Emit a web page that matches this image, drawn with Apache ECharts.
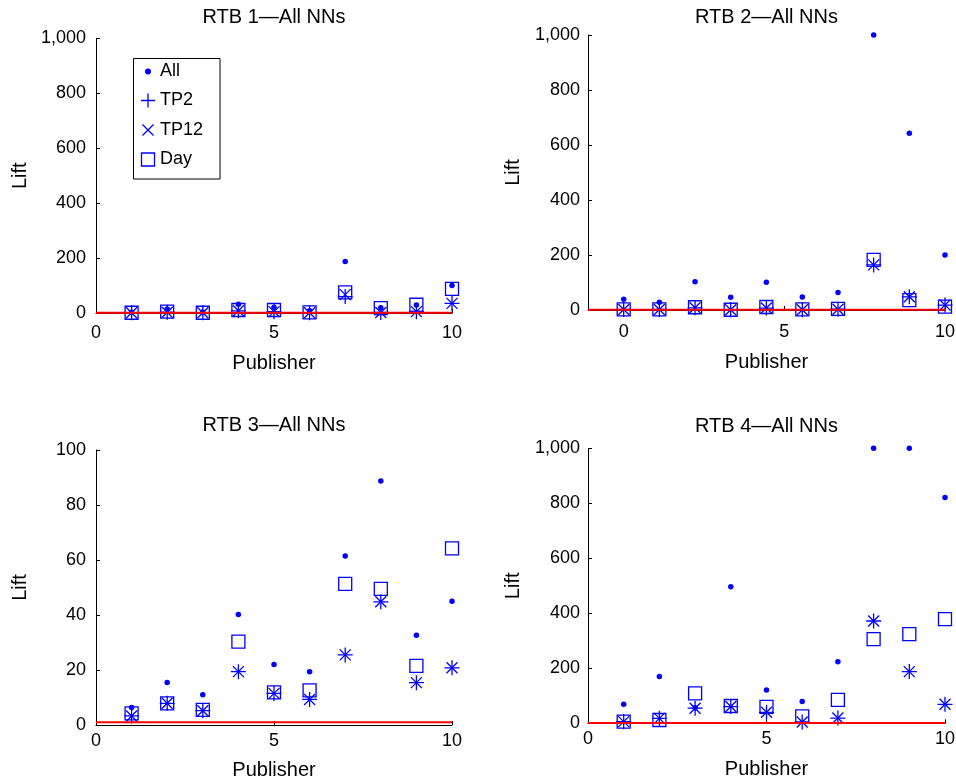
<!DOCTYPE html>
<html><head><meta charset="utf-8">
<script src="https://cdn.jsdelivr.net/npm/echarts@6/dist/echarts.min.js"></script>
<style>html,body{margin:0;padding:0;background:#fff}#c{width:956px;height:784px}</style>
</head><body><div id="c"></div>
<script>
// ---------- data ----------
const publishers = [1, 2, 3, 4, 5, 6, 7, 8, 9, 10];
const rtb2Positions = [0, 1.11, 2.22, 3.33, 4.44, 5.56, 6.67, 7.78, 8.89, 10];
const seriesNames = ['All', 'TP2', 'TP12', 'Day'];
const panelTitles = ['RTB 1—All NNs', 'RTB 2—All NNs', 'RTB 3—All NNs', 'RTB 4—All NNs'];
const xAxisName = 'Publisher';
const yAxisName = 'Lift';
const xTickValues = [0, 5, 10];
const baselineLift = 1;

const rtb1All  = [3, 15, 4, 32, 21, 8, 188, 19, 29, 100];
const rtb1TP2  = [1, 3, 1, 8, 5, 1, 60, 2, 5, 35];
const rtb1TP12 = [1, 3, 1, 8, 5, 1, 67, 2, 5, 35];
const rtb1Day  = [1, 5, 1, 11, 11, 2, 75, 18, 30, 88];

const rtb2All  = [39, 28, 103, 46, 101, 47, 64, 1000, 643, 200];
const rtb2TP2  = [2, 2, 8, 1, 7, 1, 3, 164, 48, 18];
const rtb2TP12 = [2, 2, 8, 1, 7, 1, 3, 164, 48, 18];
const rtb2Day  = [2, 2, 10, 1, 11, 2, 4, 182, 36, 12];

const rtb3All  = [6.4, 15.5, 11, 40.2, 22, 19.4, 61.5, 88.7, 32.6, 45];
const rtb3TP2  = [3.3, 7.9, 5.2, 19.4, 11.5, 9.3, 25.5, 44.8, 15.4, 20.8];
const rtb3TP12 = [3.3, 7.9, 5.2, 19.4, 11.5, 9.3, 25.5, 44.8, 15.4, 20.8];
const rtb3Day  = [4.2, 7.9, 5.5, 30.3, 11.9, 12.6, 51.3, 49.5, 21.5, 64.2];

const rtb4All  = [69, 170, 57, 497, 121, 79, 224, 1000, 1000, 821];
const rtb4TP2  = [6, 18, 55, 61, 40, 5, 19, 372, 188, 69];
const rtb4TP12 = [6, 18, 55, 61, 40, 5, 19, 372, 188, 69];
const rtb4Day  = [6, 12, 109, 63, 60, 25, 85, 306, 324, 379];

const yMaxBig = 1000, yStepBig = 200;
const yMaxSmall = 100, yStepSmall = 20;

// ---------- styles / layout ----------
const FONT = 'Liberation Sans, Arial, sans-serif';
const BLUE = '#0000ff';
const RED = '#ff0000';
const SYM_PLUS = 'path://M0,7L14,7M7,0L7,14';
const SYM_X = 'path://M0,0L10,10M0,10L10,0';
const SYM_SQ = 'path://M0,0L10,0L10,10L0,10Z';

const panels = [
  { x: publishers, all: rtb1All, tp2: rtb1TP2, tp12: rtb1TP12, day: rtb1Day, xMin: 0, yMax: yMaxBig, yStep: yStepBig,
    grid: { left: 96, top: 38.5, width: 356, height: 274.5 }, xMargin: 11, yMargin: 10, xNameGap: 40, yNameGap: 66, titleTop: 7 },
  { x: rtb2Positions, all: rtb2All, tp2: rtb2TP2, tp12: rtb2TP12, day: rtb2Day, xMin: -1.111, yMax: yMaxBig, yStep: yStepBig,
    grid: { left: 588, top: 35, width: 357, height: 275 }, xMargin: 13, yMargin: 8, xNameGap: 42, yNameGap: 65, titleTop: 7 },
  { x: publishers, all: rtb3All, tp2: rtb3TP2, tp12: rtb3TP12, day: rtb3Day, xMin: 0, yMax: yMaxSmall, yStep: yStepSmall,
    grid: { left: 96, top: 450, width: 356, height: 275 }, xMargin: 7, yMargin: 10, xNameGap: 35, yNameGap: 66, titleTop: 415 },
  { x: publishers, all: rtb4All, tp2: rtb4TP2, tp12: rtb4TP12, day: rtb4Day, xMin: 0, yMax: yMaxBig, yStep: yStepBig,
    grid: { left: 588, top: 448.3, width: 357, height: 275 }, xMargin: 7, yMargin: 8, xNameGap: 36, yNameGap: 65, titleTop: 416 }
];

const pair = (xs, ys) => xs.map((v, i) => [v, ys[i]]);
const fmt = v => Number(v).toLocaleString('en-US');

const grids = [], xAxes = [], yAxes = [], titles = [], series = [];
panels.forEach((p, i) => {
  grids.push(Object.assign({ containLabel: false, outerBoundsMode: 'none' }, p.grid));
  titles.push({ text: panelTitles[i], left: p.grid.left + p.grid.width / 2, top: p.titleTop, textAlign: 'center', padding: 0,
    textStyle: { fontFamily: FONT, fontSize: 20, fontWeight: 'normal', color: '#000' } });
  xAxes.push({
    type: 'value', gridIndex: i, min: p.xMin, max: 10,
    name: xAxisName, nameLocation: 'middle', nameGap: p.xNameGap,
    nameTextStyle: { fontFamily: FONT, fontSize: 20, color: '#000' },
    axisLine: { show: true, onZero: false, lineStyle: { color: '#000', width: 1 } },
    axisTick: { show: true, inside: true, length: 4, lineStyle: { color: '#000' }, customValues: xTickValues },
    axisLabel: { fontFamily: FONT, fontSize: 18, color: '#000', margin: p.xMargin, customValues: xTickValues, formatter: fmt },
    splitLine: { show: false }
  });
  yAxes.push({
    type: 'value', gridIndex: i, min: 0, max: p.yMax, interval: p.yStep,
    name: yAxisName, nameLocation: 'middle', nameGap: p.yNameGap,
    nameTextStyle: { fontFamily: FONT, fontSize: 20, color: '#000' },
    axisLine: { show: true, onZero: false, lineStyle: { color: '#000', width: 1 } },
    axisTick: { show: true, inside: true, length: 4, lineStyle: { color: '#000' } },
    axisLabel: { fontFamily: FONT, fontSize: 18, color: '#000', margin: p.yMargin, formatter: fmt },
    splitLine: { show: false }
  });
  const common = { type: 'scatter', xAxisIndex: i, yAxisIndex: i, silent: true };
  series.push(Object.assign({}, common, { name: seriesNames[3], data: pair(p.x, p.day), symbol: SYM_SQ, symbolSize: 13,
    itemStyle: { color: 'none', borderColor: BLUE, borderWidth: 1.3, opacity: 1 }, z: 2 }));
  series.push(Object.assign({}, common, { name: seriesNames[1], data: pair(p.x, p.tp2), symbol: SYM_PLUS, symbolSize: 15,
    itemStyle: { color: 'none', borderColor: BLUE, borderWidth: 1.3, opacity: 1 }, z: 2 }));
  series.push(Object.assign({}, common, { name: seriesNames[2], data: pair(p.x, p.tp12), symbol: SYM_X, symbolSize: 11,
    itemStyle: { color: 'none', borderColor: BLUE, borderWidth: 1.3, opacity: 1 }, z: 2 }));
  series.push(Object.assign({}, common, { name: seriesNames[0], data: pair(p.x, p.all), symbol: 'circle', symbolSize: 5.5,
    itemStyle: { color: BLUE, borderWidth: 0, opacity: 1 }, z: 3 }));
  series.push({ type: 'line', name: 'baseline', xAxisIndex: i, yAxisIndex: i, silent: true, symbol: 'none',
    data: [[p.xMin, baselineLift], [10, baselineLift]], lineStyle: { color: RED, width: 2, opacity: 1 }, z: 4 });
});

const option = {
  animation: false,
  backgroundColor: '#fff',
  title: titles,
  grid: grids,
  xAxis: xAxes,
  yAxis: yAxes,
  legend: {
    orient: 'vertical', left: 133.5, top: 58.5, padding: [4, 17, 10, 5], itemGap: 10.5,
    itemWidth: 14, itemHeight: 14, borderColor: '#000', borderWidth: 1, backgroundColor: '#fff',
    selectedMode: false,
    textStyle: { fontFamily: FONT, fontSize: 18, color: '#000', lineHeight: 18 },
    data: [
      { name: seriesNames[0], icon: 'path://M0,0M14,14M4,7a3,3 0 1,0 6,0a3,3 0 1,0 -6,0Z', itemStyle: { color: BLUE, borderWidth: 0, opacity: 1 } },
      { name: seriesNames[1], icon: 'path://M0,7L14,7M7,0L7,14', itemStyle: { color: 'none', borderColor: BLUE, borderWidth: 1.3, opacity: 1 } },
      { name: seriesNames[2], icon: 'path://M0,0M14,14M1.5,1.5L12.5,12.5M1.5,12.5L12.5,1.5', itemStyle: { color: 'none', borderColor: BLUE, borderWidth: 1.3, opacity: 1 } },
      { name: seriesNames[3], icon: 'path://M0,0M14,14M0.5,0.5L13.5,0.5L13.5,13.5L0.5,13.5Z', itemStyle: { color: 'none', borderColor: BLUE, borderWidth: 1.3, opacity: 1 } }
    ]
  },
  series: series
};
echarts.init(document.getElementById('c'), null, { renderer: 'canvas' }).setOption(option);
</script>
</body></html>
